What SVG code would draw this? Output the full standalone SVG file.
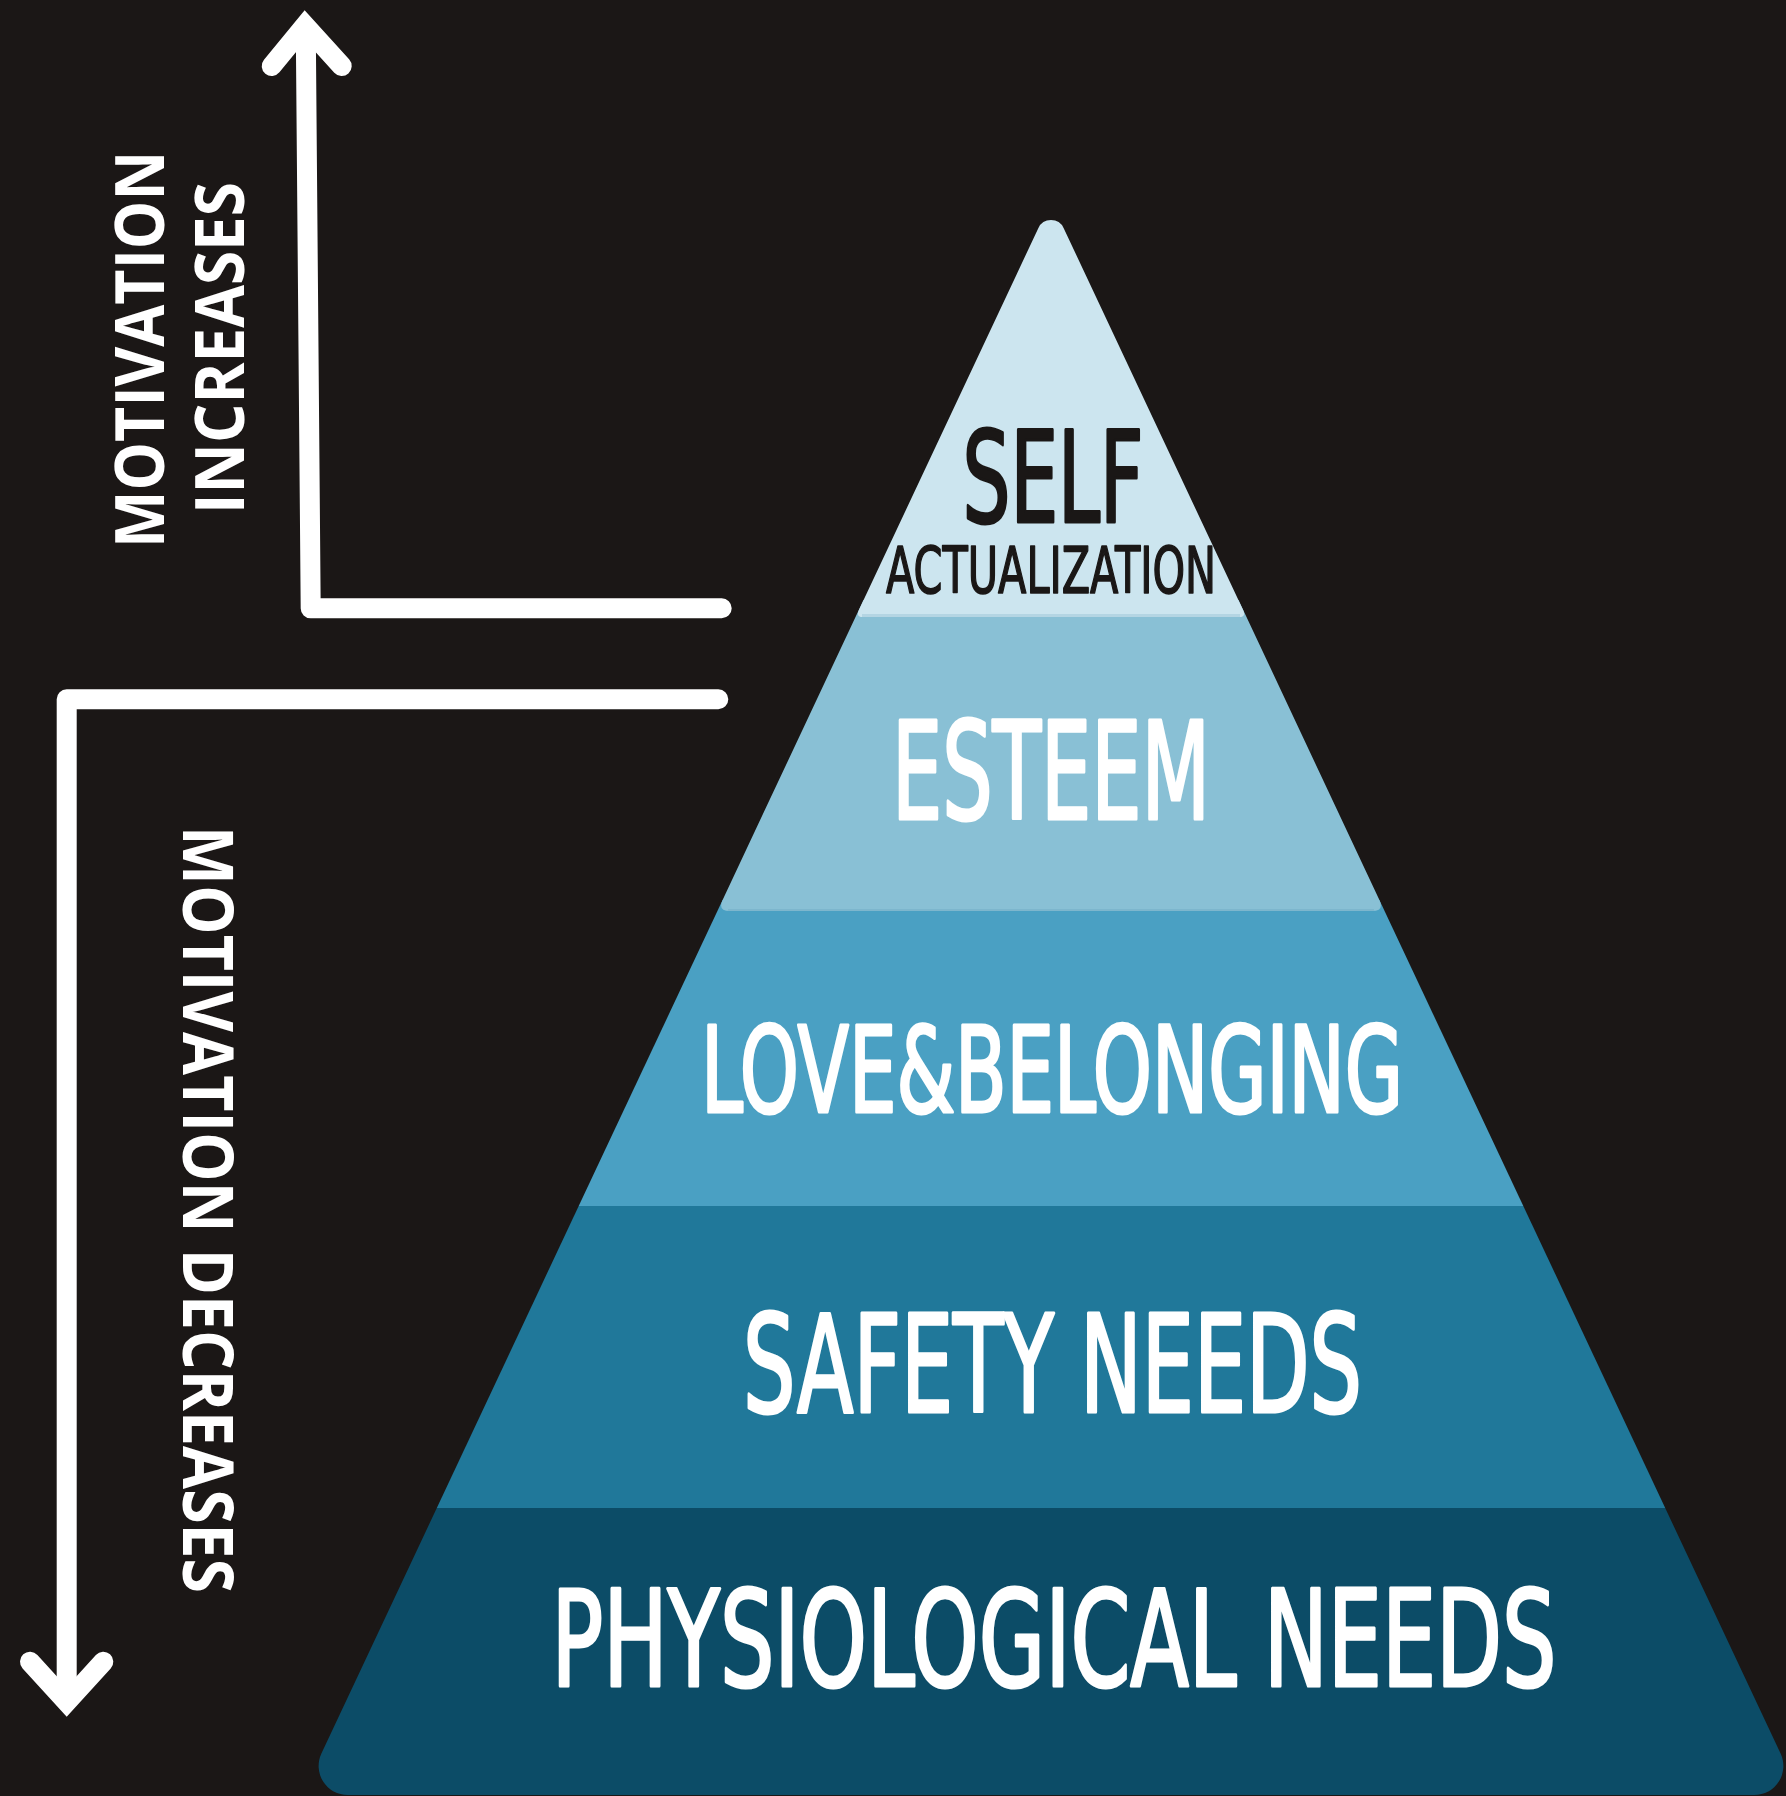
<svg xmlns="http://www.w3.org/2000/svg" width="1786" height="1796" viewBox="0 0 1786 1796">
  <style>
    .tier-label { font-family: "Liberation Sans Narrow", "DejaVu Sans Condensed", "Liberation Sans", sans-serif; text-anchor: middle; stroke-linejoin: round; }
    .light { fill: #ffffff; stroke: #ffffff; stroke-width: 3.2; }
    .dark { fill: #1a1716; stroke: #1a1716; stroke-width: 3; }
    .dark.small { stroke-width: 1.6; }
    .axis-label { font-family: "Open Sans", "DejaVu Sans", sans-serif; font-weight: 700; fill: #ffffff; text-anchor: middle; }
    .axis { fill: none; stroke: #ffffff; stroke-width: 20; }
    .shaft { stroke-linejoin: round; stroke-linecap: round; }
    .head { stroke-linejoin: miter; stroke-miterlimit: 10; stroke-linecap: round; }
  </style>

  <!-- backdrop -->
  <rect x="0" y="0" width="1786" height="1796" fill="#1b1716"/>

  <!-- pyramid tiers, drawn bottom-up so each upper tier overlaps the seam -->
  <g id="tier-physiological">
    <path d="M 436.8,1508 L 1665.2,1508 L 1780.6,1753.6 A 29 29 0 0 1 1754.3,1795 L 347.7,1795 A 29 29 0 0 1 321.4,1753.6 Z" fill="#0c4c67"/>
    <text class="tier-label light" x="1054" y="1686" font-size="134" textLength="1005" lengthAdjust="spacingAndGlyphs">PHYSIOLOGICAL NEEDS</text>
  </g>

  <g id="tier-safety">
    <path d="M 578.7,1206 L 1523.3,1206 L 1665.2,1508 L 436.8,1508 Z" fill="#20789a"/>
    <text class="tier-label light" x="1052.5" y="1412" font-size="135" textLength="619" lengthAdjust="spacingAndGlyphs">SAFETY NEEDS</text>
  </g>

  <g id="tier-love">
    <path d="M 722.6,900 L 1379.4,900 L 1523.3,1206 L 578.7,1206 Z" fill="#4aa0c3"/>
    <text class="tier-label light" x="1052" y="1112" font-size="120" textLength="702" lengthAdjust="spacingAndGlyphs">LOVE&amp;BELONGING</text>
  </g>

  <g id="tier-esteem">
    <path d="M 863.5,600 L 1238.5,600 L 1379.4,900 Q 1384.6,911 1372,911 L 730,911 Q 717.4,911 722.6,900 Z" fill="#89c0d5"/>
    <path d="M 728,910 L 1374,910" stroke="#7db6cd" stroke-width="2" fill="none"/>
    <text class="tier-label light" x="1051" y="819" font-size="135" textLength="318" lengthAdjust="spacingAndGlyphs">ESTEEM</text>
  </g>

  <g id="tier-self-actualization">
    <path d="M 1038.3,228.2 A 14 14 0 0 1 1063.7,228.2 L 1243.1,610 Q 1246.4,617 1239,617 L 863,617 Q 855.6,617 858.9,610 Z" fill="#cce5ef"/>
    <path d="M 862,615.5 L 1240,615.5" stroke="#b4d5e3" stroke-width="3" fill="none"/>
    <text class="tier-label dark" x="1053" y="522" font-size="126" textLength="181" lengthAdjust="spacingAndGlyphs">SELF</text>
    <text class="tier-label dark small" x="1051" y="592.5" font-size="64" textLength="330" lengthAdjust="spacingAndGlyphs">ACTUALIZATION</text>
  </g>

  <!-- motivation axes -->
  <g id="connectors">
    <path class="axis shaft" d="M 721.7,608.3 L 310.7,608.3 L 305.8,32"/>
    <path class="axis head" d="M 271.7,66 L 305,25.5 L 341.7,66"/>
    <path class="axis shaft" d="M 718.3,699.3 L 66.7,699.3 L 66.7,1695"/>
    <path class="axis head" d="M 30,1661.7 L 66.7,1702 L 103.3,1661.7"/>
  </g>

  <g id="label-increases">
    <text class="axis-label" transform="translate(163.8,349.5) rotate(-90)" font-size="68" textLength="397" lengthAdjust="spacingAndGlyphs">MOTIVATION</text>
    <text class="axis-label" transform="translate(243.5,348) rotate(-90)" font-size="68" textLength="332" lengthAdjust="spacingAndGlyphs">INCREASES</text>
  </g>

  <g id="label-decreases">
    <text class="axis-label" transform="translate(183,1209.5) rotate(90)" font-size="70" textLength="767" lengthAdjust="spacingAndGlyphs">MOTIVATION DECREASES</text>
  </g>
</svg>
